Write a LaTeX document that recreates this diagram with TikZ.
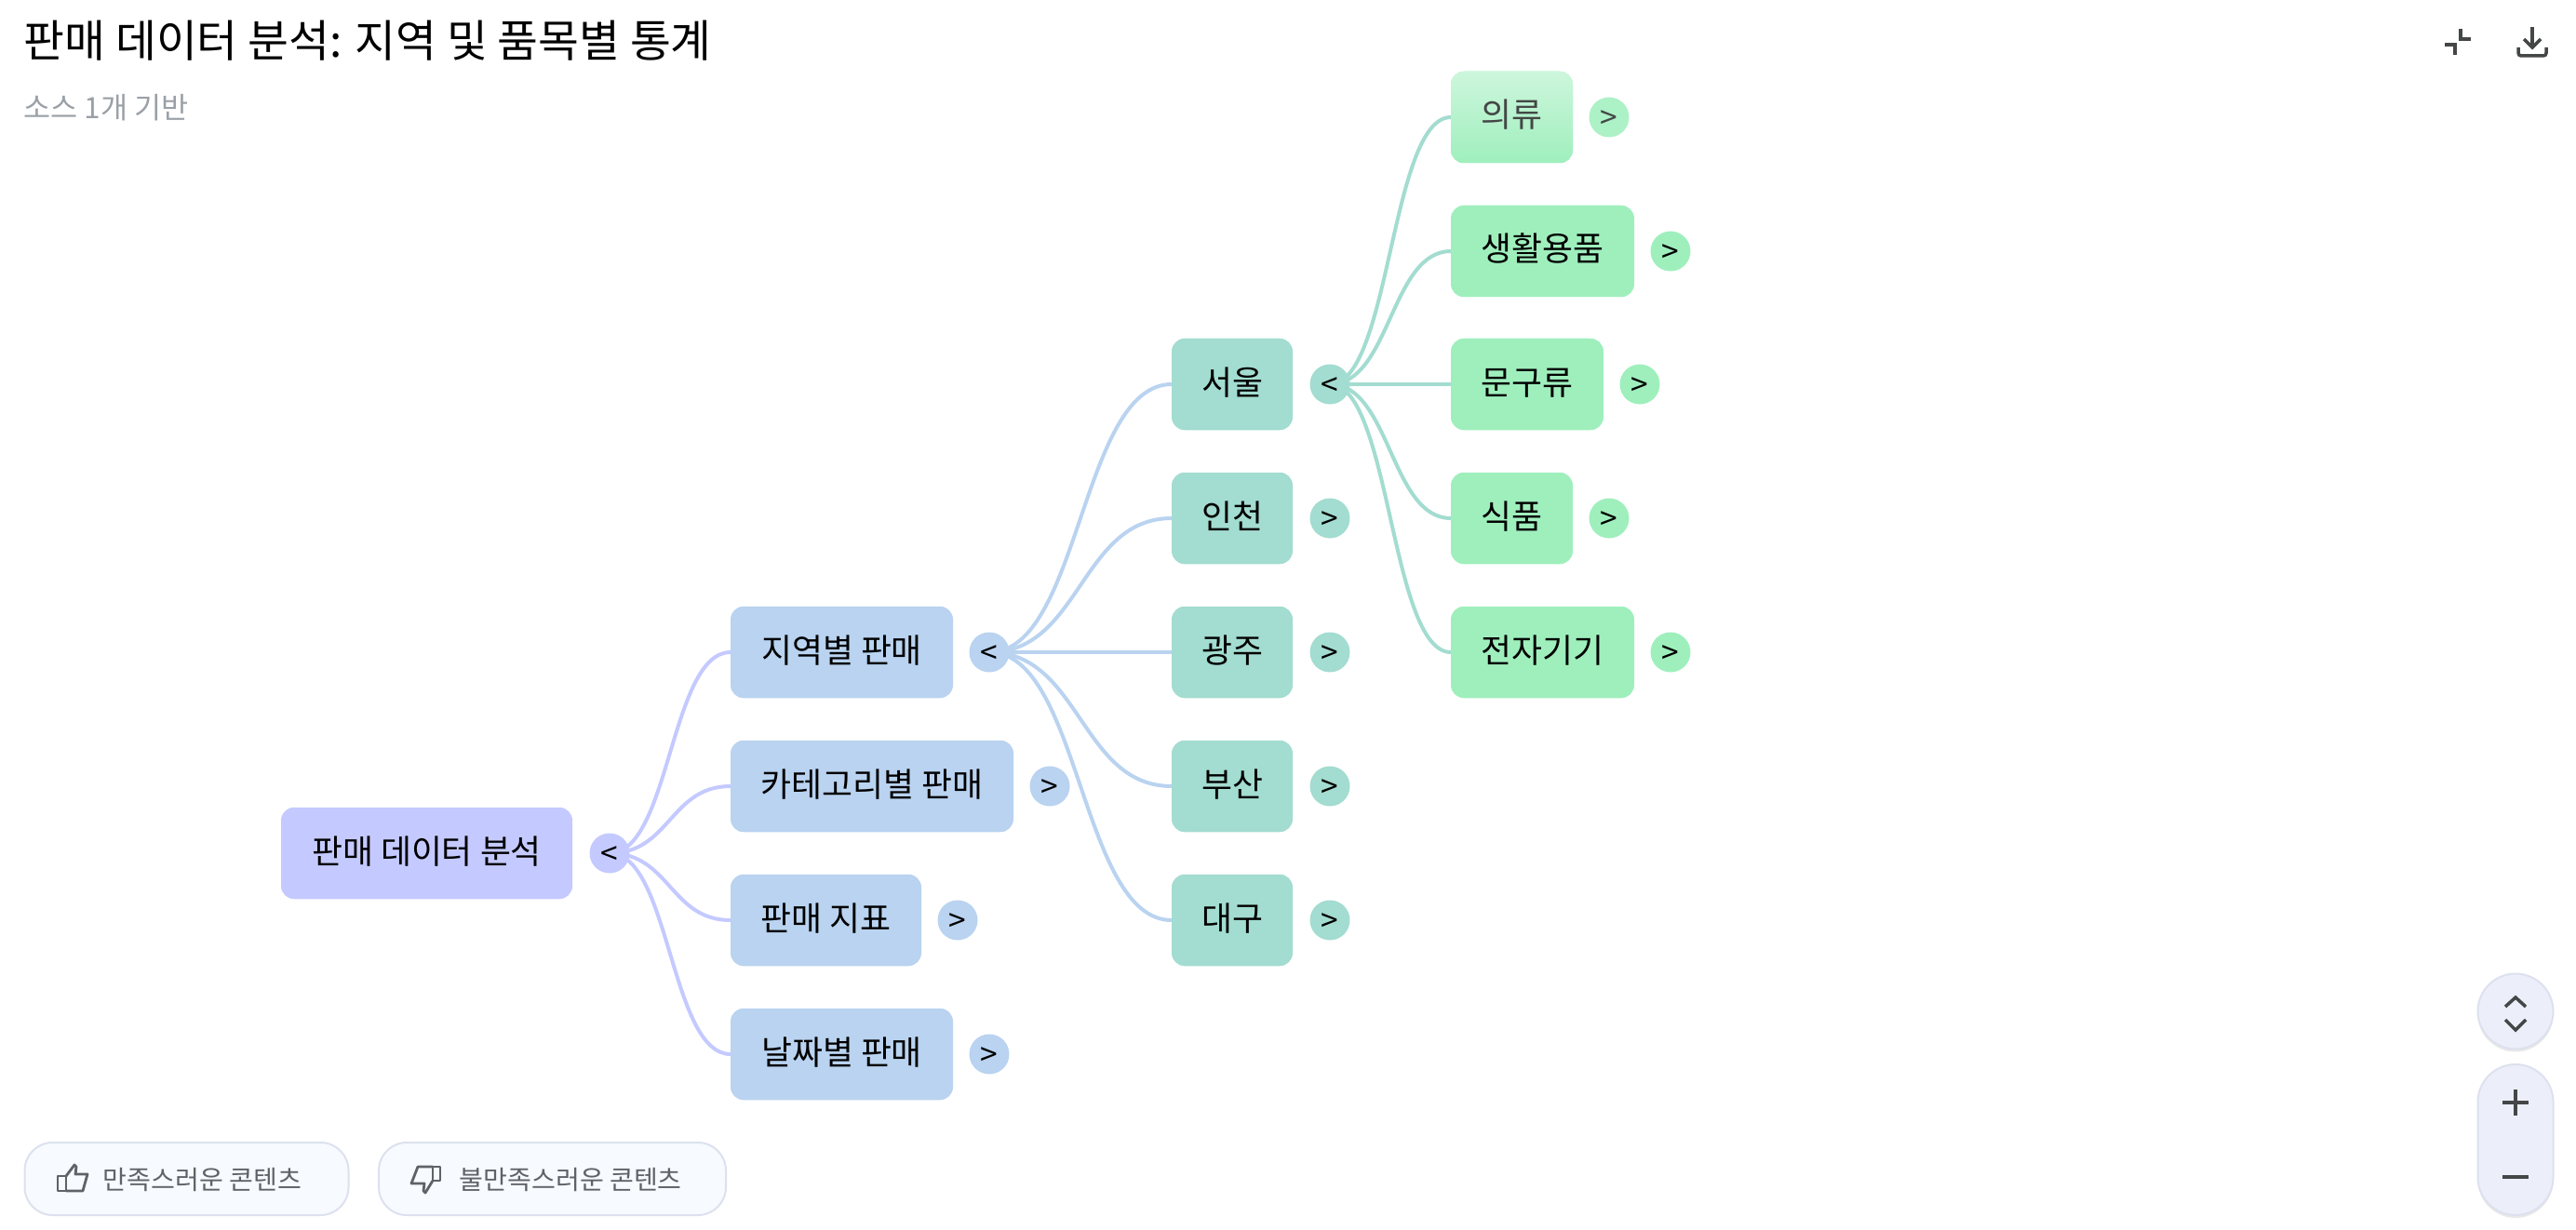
\documentclass[tikz,border=0pt]{standalone}
\usepackage{fontspec}
\setmainfont{Noto Sans CJK KR}
\usetikzlibrary{positioning, backgrounds, calc, shadows}
\definecolor{maproot}{RGB}{196,202,255}
\definecolor{mapblue}{RGB}{185,211,240}
\definecolor{mapteal}{RGB}{163,220,208}
\definecolor{mapgreen}{RGB}{159,239,189}
\definecolor{mapfade}{RGB}{205,246,220}
\definecolor{mapdim}{RGB}{68,71,70}
\definecolor{mapgray}{RGB}{154,160,166}
\definecolor{panelfill}{RGB}{236,239,250}
\definecolor{paneledge}{RGB}{221,225,238}
\definecolor{btnfill}{RGB}{247,250,255}
\definecolor{btntext}{RGB}{95,99,104}
\tikzset{
  %% ---- boxes ----
  mapbox/.style   = {rectangle, rounded corners=0.14cm, fill=#1,
                     minimum height=0.985cm, inner sep=0pt, outer sep=0pt,
                     text height=0.32cm, text depth=0.10cm,
                     anchor=west, font=\fontsize{10.2}{12}\selectfont},
  toggle/.style   = {circle, fill=#1, minimum size=0.43cm, inner sep=0pt,
                     outer sep=0pt, text height=0.25cm, text depth=0pt,
                     font=\fontsize{9.5}{11}\selectfont},
  btnbox/.style   = {rectangle, rounded corners=0.3cm, draw=paneledge,
                     line width=0.02cm, fill=btnfill, minimum height=0.78cm,
                     anchor=west, inner sep=0pt},
  btnlabel/.style = {anchor=west, inner sep=0pt, text=btntext,
                     font=\fontsize{8}{10}\selectfont},
  panel/.style    = {rounded corners=#1, draw=paneledge, line width=0.02cm,
                     fill=panelfill, inner sep=0pt,
                     drop shadow={shadow xshift=0cm, shadow yshift=-0.03cm,
                                  opacity=0.18}},
  %% ---- lines ----
  link/.style     = {line width=0.04cm, color=#1, to path={
                     .. controls ($(\tikztostart)!0.5!(\tikztotarget |- \tikztostart)$)
                     and ($(\tikztostart |- \tikztotarget)!0.5!(\tikztotarget)$)
                     .. (\tikztotarget)}},
  iconline/.style = {line width=0.035cm, color=mapdim},
  thumbline/.style= {line width=0.028cm, color=btntext, line join=round},
}
\begin{document}
\begin{tikzpicture}
  \useasboundingbox (0,0) rectangle (27.68,13.21);

  %% Heading
  \node[anchor=west, inner sep=0pt, font=\fontsize{13.57}{16}\selectfont]
    (title) at (0.25,12.77) {판매 데이터 분석: 지역 및 품목별 통계};
  \node[anchor=west, inner sep=0pt, text=mapgray, font=\fontsize{9}{11}\selectfont]
    (source) at (0.25,12.05) {소스 1개 기반};

  %% Root
  \node[mapbox=maproot, minimum width=3.13cm] (root) at (3.02,4.04) {판매 데이터 분석};
  \node[toggle=maproot, right=0.185cm of root] (rootT) {<};

  %% Second level
  \node[mapbox=mapblue, minimum width=2.39cm] (region) at (7.85,6.20) {지역별 판매};
  \node[toggle=mapblue, right=0.175cm of region] (regionT) {<};
  \node[mapbox=mapblue, minimum width=3.04cm] (category) at (7.85,4.76) {카테고리별 판매};
  \node[toggle=mapblue, right=0.175cm of category] (categoryT) {>};
  \node[mapbox=mapblue, minimum width=2.05cm] (metric) at (7.85,3.32) {판매 지표};
  \node[toggle=mapblue, right=0.175cm of metric] (metricT) {>};
  \node[mapbox=mapblue, minimum width=2.39cm] (date) at (7.85,1.88) {날짜별 판매};
  \node[toggle=mapblue, right=0.175cm of date] (dateT) {>};

  %% Cities
  \node[mapbox=mapteal, minimum width=1.30cm] (seoul) at (12.59,9.08) {서울};
  \node[toggle=mapteal, right=0.185cm of seoul] (seoulT) {<};
  \node[mapbox=mapteal, minimum width=1.30cm] (incheon) at (12.59,7.64) {인천};
  \node[toggle=mapteal, right=0.185cm of incheon] (incheonT) {>};
  \node[mapbox=mapteal, minimum width=1.30cm] (gwangju) at (12.59,6.20) {광주};
  \node[toggle=mapteal, right=0.185cm of gwangju] (gwangjuT) {>};
  \node[mapbox=mapteal, minimum width=1.30cm] (busan) at (12.59,4.76) {부산};
  \node[toggle=mapteal, right=0.185cm of busan] (busanT) {>};
  \node[mapbox=mapteal, minimum width=1.30cm] (daegu) at (12.59,3.32) {대구};
  \node[toggle=mapteal, right=0.185cm of daegu] (daeguT) {>};

  %% Items
  \node[mapbox=mapgreen, top color=mapfade, bottom color=mapgreen, text=mapdim,
    minimum width=1.31cm] (clothes) at (15.59,11.95) {의류};
  \node[toggle=mapgreen!85!white, text=mapdim, right=0.175cm of clothes] (clothesT) {>};
  \node[mapbox=mapgreen, minimum width=1.97cm] (living) at (15.59,10.51) {생활용품};
  \node[toggle=mapgreen, right=0.175cm of living] (livingT) {>};
  \node[mapbox=mapgreen, minimum width=1.64cm] (office) at (15.59,9.08) {문구류};
  \node[toggle=mapgreen, right=0.175cm of office] (officeT) {>};
  \node[mapbox=mapgreen, minimum width=1.31cm] (food) at (15.59,7.64) {식품};
  \node[toggle=mapgreen, right=0.175cm of food] (foodT) {>};
  \node[mapbox=mapgreen, minimum width=1.97cm] (device) at (15.59,6.20) {전자기기};
  \node[toggle=mapgreen, right=0.175cm of device] (deviceT) {>};

  %% Links
  \begin{scope}[on background layer]
    \draw[link=maproot] (rootT.center) to (region.west);
    \draw[link=maproot] (rootT.center) to (category.west);
    \draw[link=maproot] (rootT.center) to (metric.west);
    \draw[link=maproot] (rootT.center) to (date.west);
    \draw[link=mapblue] (regionT.center) to (seoul.west);
    \draw[link=mapblue] (regionT.center) to (incheon.west);
    \draw[link=mapblue] (regionT.center) to (gwangju.west);
    \draw[link=mapblue] (regionT.center) to (busan.west);
    \draw[link=mapblue] (regionT.center) to (daegu.west);
    \draw[link=mapteal] (seoulT.center) to (clothes.west);
    \draw[link=mapteal] (seoulT.center) to (living.west);
    \draw[link=mapteal] (seoulT.center) to (office.west);
    \draw[link=mapteal] (seoulT.center) to (food.west);
    \draw[link=mapteal] (seoulT.center) to (device.west);
  \end{scope}

  %% Top icons
  \draw[iconline] (26.27,12.73) -- (26.38,12.73) -- (26.38,12.62);
  \draw[iconline] (26.44,12.90) -- (26.44,12.79) -- (26.55,12.79);
  \draw[iconline] (27.21,12.92) -- (27.21,12.70);
  \draw[iconline] (27.12,12.79) -- (27.21,12.70) -- (27.30,12.79);
  \draw[iconline, rounded corners=0.03cm] (27.06,12.70) -- (27.06,12.61) -- (27.36,12.61) -- (27.36,12.70);

  %% Zoom controls
  \node[panel=0.41cm, circle, minimum size=0.81cm] (fold) at (27.03,2.34) {};
  \draw[iconline] (26.92,2.39) -- (27.03,2.49) -- (27.14,2.39);
  \draw[iconline] (26.92,2.25) -- (27.03,2.14) -- (27.14,2.25);
  \node[panel=0.405cm, rectangle, minimum width=0.81cm, minimum height=1.62cm] (zoom) at (27.03,0.96) {};
  \draw[iconline] (26.89,1.36) -- (27.17,1.36);
  \draw[iconline] (27.03,1.22) -- (27.03,1.50);
  \draw[iconline] (26.89,0.56) -- (27.17,0.56);

  %% Feedback buttons
  \node[btnbox, minimum width=3.48cm] (good) at (0.255,0.54) {};
  \node[btnlabel] (goodL) at (1.10,0.53) {만족스러운 콘텐츠};
  \draw[thumbline] (0.62,0.41) rectangle (0.71,0.57);
  \draw[thumbline] (0.71,0.57) -- (0.80,0.69) -- (0.82,0.67) -- (0.81,0.59) -- (0.94,0.59) -- (0.89,0.41) -- (0.71,0.41);
  \node[btnbox, minimum width=3.73cm] (bad) at (4.06,0.54) {};
  \node[btnlabel] (badL) at (4.93,0.53) {불만족스러운 콘텐츠};
  \draw[thumbline] (4.73,0.67) rectangle (4.65,0.52);
  \draw[thumbline] (4.65,0.67) -- (4.49,0.67) -- (4.42,0.49) -- (4.56,0.49) -- (4.55,0.41) -- (4.57,0.39) -- (4.65,0.52);

\end{tikzpicture}
\end{document}
